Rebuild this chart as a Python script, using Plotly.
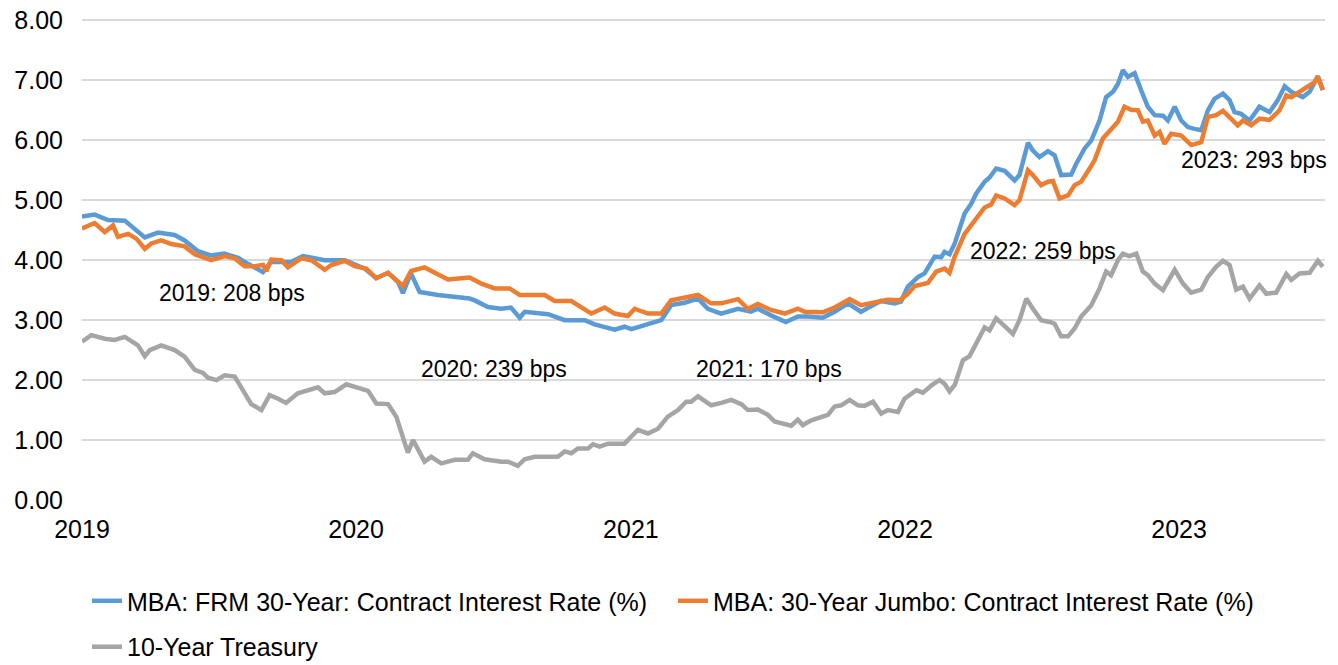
import numpy as np
import pandas as pd
import plotly.graph_objects as go

# time expressed as years since 2019-01-01
frm_t = [0.000, 0.046, 0.095, 0.156, 0.229, 0.277, 0.338, 0.374, 0.423, 0.470, 0.518, 0.569, 0.605, 0.660,
         0.689, 0.762, 0.806, 0.842, 0.885, 0.958, 0.994, 1.031, 1.072, 1.116, 1.152, 1.170, 1.199, 1.231,
         1.298, 1.346, 1.382, 1.413, 1.432, 1.480, 1.528, 1.564, 1.596, 1.614, 1.699, 1.760, 1.833, 1.869,
         1.942, 1.978, 2.003, 2.063, 2.112, 2.148, 2.197, 2.246, 2.282, 2.330, 2.392, 2.439, 2.464, 2.512,
         2.566, 2.610, 2.647, 2.701, 2.744, 2.793, 2.840, 2.876, 2.913, 2.963, 2.986, 3.011, 3.048, 3.072,
         3.109, 3.133, 3.145, 3.163, 3.182, 3.218, 3.242, 3.260, 3.291, 3.309, 3.333, 3.364, 3.400, 3.418,
         3.449, 3.467, 3.491, 3.522, 3.546, 3.570, 3.607, 3.625, 3.655, 3.680, 3.710, 3.734, 3.759, 3.777,
         3.795, 3.813, 3.838, 3.862, 3.886, 3.911, 3.941, 3.959, 3.984, 4.008, 4.032, 4.056, 4.081, 4.105,
         4.129, 4.160, 4.184, 4.202, 4.226, 4.257, 4.293, 4.330, 4.360, 4.385, 4.409, 4.451, 4.476, 4.506,
         4.524]
frm_v = [4.73, 4.76, 4.67, 4.66, 4.38, 4.46, 4.42, 4.33, 4.15, 4.08, 4.11, 4.04, 3.94, 3.80,
         3.97, 3.97, 4.07, 4.03, 4.00, 4.00, 3.94, 3.86, 3.70, 3.79, 3.64, 3.45, 3.78, 3.47,
         3.42, 3.40, 3.39, 3.36, 3.33, 3.22, 3.19, 3.21, 3.04, 3.14, 3.10, 3.00, 3.00, 2.93,
         2.84, 2.89, 2.85, 2.93, 3.00, 3.25, 3.29, 3.36, 3.19, 3.11, 3.19, 3.14, 3.19, 3.08,
         2.97, 3.06, 3.06, 3.04, 3.14, 3.28, 3.14, 3.23, 3.32, 3.28, 3.31, 3.56, 3.72, 3.78,
         4.06, 4.05, 4.14, 4.10, 4.28, 4.78, 4.94, 5.11, 5.31, 5.38, 5.53, 5.49, 5.33, 5.42,
         5.96, 5.83, 5.72, 5.82, 5.75, 5.42, 5.43, 5.61, 5.86, 6.00, 6.33, 6.72, 6.81, 6.94,
         7.17, 7.06, 7.12, 6.83, 6.56, 6.42, 6.41, 6.33, 6.56, 6.33, 6.22, 6.19, 6.17, 6.50,
         6.69, 6.78, 6.67, 6.47, 6.44, 6.33, 6.56, 6.47, 6.67, 6.90, 6.81, 6.72, 6.81, 7.07,
         6.84]

jumbo_t = [0.000, 0.046, 0.083, 0.113, 0.131, 0.168, 0.198, 0.229, 0.253, 0.289, 0.326, 0.374, 0.411, 0.447,
           0.471, 0.520, 0.557, 0.593, 0.630, 0.660, 0.672, 0.690, 0.727, 0.751, 0.799, 0.836, 0.885, 0.909,
           0.958, 0.994, 1.036, 1.073, 1.116, 1.170, 1.200, 1.249, 1.286, 1.334, 1.383, 1.413, 1.456, 1.505,
           1.559, 1.596, 1.687, 1.723, 1.784, 1.833, 1.857, 1.906, 1.942, 1.990, 2.015, 2.063, 2.112, 2.148,
           2.203, 2.246, 2.293, 2.330, 2.392, 2.428, 2.464, 2.512, 2.562, 2.610, 2.635, 2.701, 2.744, 2.799,
           2.840, 2.890, 2.938, 2.981, 3.011, 3.036, 3.066, 3.084, 3.114, 3.145, 3.163, 3.182, 3.218, 3.254,
           3.291, 3.315, 3.333, 3.364, 3.400, 3.418, 3.449, 3.467, 3.497, 3.522, 3.540, 3.564, 3.595, 3.619,
           3.643, 3.674, 3.692, 3.722, 3.747, 3.777, 3.801, 3.825, 3.850, 3.868, 3.886, 3.911, 3.929, 3.947,
           3.971, 4.008, 4.044, 4.081, 4.105, 4.135, 4.160, 4.184, 4.214, 4.233, 4.263, 4.293, 4.330, 4.366,
           4.391, 4.409, 4.439, 4.463, 4.494, 4.506, 4.524]
jumbo_v = [4.53, 4.62, 4.47, 4.58, 4.39, 4.44, 4.36, 4.19, 4.28, 4.33, 4.27, 4.23, 4.10, 4.03,
           4.00, 4.07, 4.03, 3.90, 3.90, 3.92, 3.82, 4.01, 4.00, 3.88, 4.03, 4.00, 3.84, 3.92,
           3.99, 3.90, 3.86, 3.70, 3.79, 3.57, 3.82, 3.88, 3.79, 3.68, 3.70, 3.71, 3.61, 3.53,
           3.53, 3.42, 3.42, 3.32, 3.32, 3.17, 3.11, 3.21, 3.11, 3.07, 3.19, 3.11, 3.11, 3.33,
           3.39, 3.42, 3.28, 3.28, 3.35, 3.19, 3.27, 3.17, 3.11, 3.19, 3.14, 3.13, 3.21, 3.35,
           3.25, 3.29, 3.34, 3.33, 3.44, 3.57, 3.60, 3.62, 3.81, 3.86, 3.79, 4.06, 4.44, 4.67,
           4.88, 4.93, 5.08, 5.03, 4.92, 5.00, 5.50, 5.42, 5.25, 5.31, 5.32, 5.03, 5.08, 5.25,
           5.31, 5.53, 5.67, 6.03, 6.17, 6.31, 6.56, 6.51, 6.50, 6.31, 6.33, 6.08, 6.14, 5.94,
           6.11, 6.08, 5.92, 5.97, 6.39, 6.42, 6.49, 6.39, 6.25, 6.33, 6.25, 6.36, 6.34, 6.50,
           6.75, 6.72, 6.81, 6.89, 6.97, 7.06, 6.84]

ust_t = [0.000, 0.034, 0.083, 0.119, 0.156, 0.204, 0.229, 0.247, 0.289, 0.338, 0.374, 0.411, 0.441, 0.459,
         0.490, 0.520, 0.557, 0.587, 0.617, 0.654, 0.684, 0.715, 0.744, 0.787, 0.836, 0.860, 0.885, 0.921,
         0.964, 1.006, 1.043, 1.073, 1.116, 1.146, 1.170, 1.188, 1.207, 1.231, 1.249, 1.273, 1.310, 1.359,
         1.407, 1.425, 1.468, 1.529, 1.553, 1.589, 1.614, 1.650, 1.735, 1.760, 1.784, 1.808, 1.845, 1.863,
         1.887, 1.918, 1.978, 2.003, 2.027, 2.063, 2.100, 2.136, 2.173, 2.203, 2.221, 2.246, 2.294, 2.331,
         2.367, 2.404, 2.428, 2.464, 2.501, 2.525, 2.562, 2.586, 2.610, 2.628, 2.659, 2.695, 2.720, 2.744,
         2.768, 2.799, 2.829, 2.853, 2.884, 2.914, 2.938, 2.975, 2.999, 3.042, 3.066, 3.102, 3.127, 3.145,
         3.163, 3.182, 3.212, 3.236, 3.266, 3.291, 3.309, 3.333, 3.364, 3.394, 3.418, 3.443, 3.467, 3.497,
         3.528, 3.546, 3.570, 3.595, 3.619, 3.643, 3.680, 3.710, 3.734, 3.752, 3.777, 3.795, 3.819, 3.844,
         3.868, 3.886, 3.911, 3.941, 3.984, 4.014, 4.044, 4.081, 4.105, 4.135, 4.160, 4.184, 4.208, 4.233,
         4.257, 4.293, 4.318, 4.354, 4.391, 4.409, 4.439, 4.476, 4.506, 4.524]
ust_v = [2.64, 2.75, 2.69, 2.67, 2.72, 2.58, 2.40, 2.50, 2.58, 2.50, 2.39, 2.17, 2.12, 2.04,
         2.00, 2.08, 2.06, 1.83, 1.60, 1.50, 1.75, 1.69, 1.62, 1.78, 1.86, 1.88, 1.78, 1.80,
         1.93, 1.88, 1.82, 1.61, 1.60, 1.39, 1.06, 0.79, 1.00, 0.78, 0.64, 0.72, 0.61, 0.67,
         0.67, 0.78, 0.68, 0.64, 0.64, 0.57, 0.68, 0.72, 0.72, 0.81, 0.78, 0.86, 0.86, 0.93,
         0.89, 0.94, 0.94, 1.06, 1.17, 1.11, 1.19, 1.39, 1.50, 1.64, 1.64, 1.73, 1.58, 1.62,
         1.67, 1.60, 1.50, 1.51, 1.42, 1.31, 1.27, 1.24, 1.34, 1.25, 1.33, 1.38, 1.42, 1.56,
         1.58, 1.67, 1.58, 1.57, 1.64, 1.44, 1.50, 1.47, 1.69, 1.83, 1.79, 1.93, 2.00, 1.94,
         1.81, 1.92, 2.33, 2.40, 2.68, 2.88, 2.83, 3.03, 2.90, 2.77, 3.00, 3.36, 3.19, 3.00,
         2.97, 2.94, 2.73, 2.73, 2.86, 3.06, 3.25, 3.53, 3.81, 3.75, 4.00, 4.11, 4.07, 4.11,
         3.81, 3.75, 3.61, 3.50, 3.84, 3.61, 3.46, 3.51, 3.72, 3.89, 3.99, 3.92, 3.51, 3.56,
         3.36, 3.58, 3.44, 3.46, 3.77, 3.67, 3.78, 3.79, 3.99, 3.89]

series_names = ["MBA: FRM 30-Year: Contract Interest Rate (%)",
                "MBA: 30-Year Jumbo: Contract Interest Rate (%)",
                "10-Year Treasury"]
series_colors = ["#5B9BD5", "#ED7D31", "#A5A5A5"]

spread_labels = ["2019: 208 bps", "2020: 239 bps", "2021: 170 bps", "2022: 259 bps", "2023: 293 bps"]
spread_label_t = [0.548, 1.503, 2.505, 3.503, 4.274]
spread_label_y = [3.45, 2.18, 2.18, 4.15, 5.67]

start = pd.Timestamp("2019-01-01")


def to_dates(t):
    return start + pd.to_timedelta(np.array(t) * 365.25, unit="D")


FONT = "Arial, Liberation Sans, sans-serif"
fig = go.Figure()
for t, v, name, color, leg in [(frm_t, frm_v, series_names[0], series_colors[0], "legend"),
                               (jumbo_t, jumbo_v, series_names[1], series_colors[1], "legend"),
                               (ust_t, ust_v, series_names[2], series_colors[2], "legend2")]:
    fig.add_trace(go.Scatter(x=to_dates(t), y=v, mode="lines", name=name,
                             line=dict(color=color, width=4.5), legend=leg))

for txt, t, y in zip(spread_labels, spread_label_t, spread_label_y):
    fig.add_annotation(x=to_dates([t])[0], y=y, text=txt, showarrow=False,
                       font=dict(family=FONT, size=23, color="#000000"))

fig.update_layout(
    width=1338, height=665,
    margin=dict(l=82, r=13, t=18, b=165),
    paper_bgcolor="white", plot_bgcolor="white",
    font=dict(family=FONT, color="#000000"),
    showlegend=True,
    legend=dict(orientation="h", x=0.004, xanchor="left", yref="container", y=0.1308, yanchor="top",
                font=dict(family=FONT, size=25, color="#000000"),
                entrywidth=541, entrywidthmode="pixels", bgcolor="rgba(0,0,0,0)"),
    legend2=dict(orientation="h", x=0.004, xanchor="left", yref="container", y=0.0617, yanchor="top",
                 font=dict(family=FONT, size=25, color="#000000"), bgcolor="rgba(0,0,0,0)"),
)
fig.update_xaxes(type="date", range=[start, to_dates([4.532])[0]], automargin=False,
                 tick0="2019-01-01", dtick="M12", tickformat="%Y",
                 showgrid=False, zeroline=False, showline=False, ticks="",
                 tickfont=dict(family=FONT, size=25, color="#000000"), ticklabelstandoff=12)
fig.update_yaxes(range=[0, 8.04], tickvals=[0, 1, 2, 3, 4, 5, 6, 7, 8], tickformat=".2f", automargin=False,
                 showgrid=True, gridcolor="#D9D9D9", gridwidth=1.5,
                 zeroline=False, showline=False, ticks="",
                 tickfont=dict(family=FONT, size=25, color="#000000"), ticklabelstandoff=18)

fig.write_html("out.html", config={"displayModeBar": False},
               post_script="document.body.style.margin='0';")
